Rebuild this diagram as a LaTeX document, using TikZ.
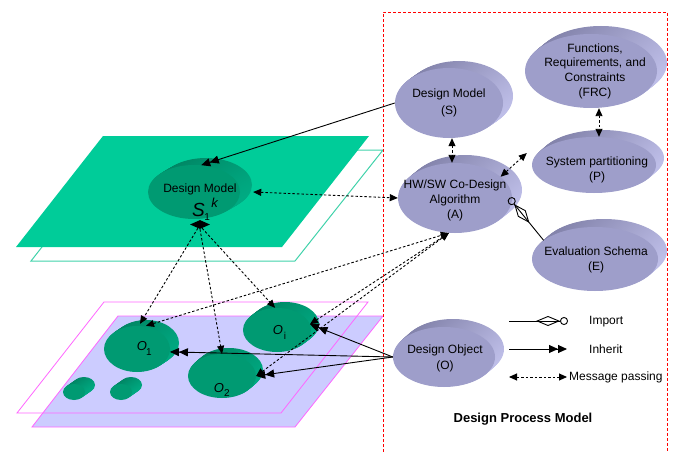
\documentclass[tikz,border=0pt]{standalone}
\usepackage{fontspec}
\setmainfont{Liberation Sans}
\usetikzlibrary{arrows.meta,shapes.geometric}

\definecolor{plane}{HTML}{00CC99}
\definecolor{planeline}{HTML}{40D2AA}
\definecolor{lav}{HTML}{CCCCFF}
\definecolor{mag}{HTML}{FF66FF}
\definecolor{face}{HTML}{9E9ECA}
\definecolor{rimdark}{HTML}{8484AC}
\definecolor{rimlight}{HTML}{BEBEE8}
\definecolor{gface}{HTML}{009A72}
\definecolor{grimdark}{HTML}{008664}
\definecolor{grimlight}{HTML}{00AA82}
\definecolor{boxred}{HTML}{FF0000}

% extruded body behind an elliptic face: cx, cy, rx, ry, dx, dy(up), dark, light
\newcommand\layers[8]{%
  \foreach \i in {10,9,...,1}{%
    \shade[top color=#7, bottom color=#8, shading angle=45]
      ({#1+#5*\i/10},{#2-#6*\i/10}) ellipse [x radius=#3pt, y radius=#4pt];
  }}

\tikzset{
  x=1pt, y=-1pt,
  lavface/.style={ellipse, fill=face, inner sep=0pt},
  greenface/.style={ellipse, fill=gface, inner sep=0pt},
  txt/.style={font=\fontsize{12}{15}\selectfont, align=center, inner sep=0pt},
  olabel/.style={font=\fontsize{13}{13}\selectfont\itshape, inner sep=0pt},
  osub/.style={font=\fontsize{10}{10}\selectfont, inner sep=0pt},
  msg/.style={line width=0.9pt, dash pattern=on 2.5pt off 2pt,
    {Triangle[length=8pt,width=7pt]}-{Triangle[length=8pt,width=7pt]}},
  msgto/.style={line width=0.9pt, dash pattern=on 2.5pt off 2pt,
    -{Triangle[length=8pt,width=7pt]}},
  inh/.style={line width=0.9pt,
    -{Triangle[length=9pt,width=8pt]Triangle[length=9pt,width=8pt]}},
  imp/.style={line width=0.9pt,
    -{Diamond[open,length=24pt,width=10pt]Circle[open,length=8pt]}},
}

\begin{document}
\begin{tikzpicture}
\useasboundingbox (0,0) rectangle (678,452);

% upper (model) planes
\draw[planeline, line width=1pt] (118,150) -- (383,150) -- (295,261) -- (31,261) -- cycle;
\fill[plane] (103,136) -- (369,136) -- (282,247) -- (16,247) -- cycle;

% design model instance S_1^k
\layers{194}{192}{46}{27}{12}{7}{grimdark}{grimlight}
\node[greenface, minimum width=92pt, minimum height=54pt] (S1) at (194,192) {};
\node[txt] (S1text) at (200,189) {Design Model};
\node[inner sep=0pt, anchor=base] (Ssym) at (205,216)
  {{\fontsize{19}{19}\selectfont\itshape S}\kern-0.5pt\raisebox{-4pt}{\fontsize{10}{10}\selectfont 1}\kern1.5pt\raisebox{9pt}{\fontsize{13}{13}\selectfont\itshape k}};
\node[diamond, fill=black, minimum width=20pt, minimum height=9pt, inner sep=0pt] (agg) at (200,224.5) {};

% lower (object) planes
\draw[mag, fill=lav, line width=0.8pt] (118,316) -- (383,316) -- (295,427) -- (32,427) -- cycle;
\draw[mag, line width=0.8pt] (104,302) -- (368,302) -- (281,413) -- (17,413) -- cycle;

% design objects
\layers{137}{349}{33}{23}{9}{6}{grimdark}{grimlight}
\node[greenface, minimum width=66pt, minimum height=46pt] (O1) at (137,349) {};
\node[olabel] (O1l) at (142,346) {O};
\node[osub] (O1s) at (149,352) {1};

\layers{277}{330}{34}{22}{8}{6}{grimdark}{grimlight}
\node[greenface, minimum width=68pt, minimum height=44pt] (Oi) at (277,330) {};
\node[olabel] (Oil) at (278,330) {O};
\node[osub] (Ois) at (285,336) {i};

\layers{222}{376}{34}{22}{7}{6}{grimdark}{grimlight}
\node[greenface, minimum width=68pt, minimum height=44pt] (O2) at (222,376) {};
\node[olabel] (O2l) at (219,388) {O};
\node[osub] (O2s) at (227,393) {2};

\layers{74}{392}{11}{8}{10}{7}{grimdark}{grimlight}
\node[greenface, minimum width=22pt, minimum height=16pt] (pa) at (74,392) {};
\layers{121}{392}{11}{8}{10}{7}{grimdark}{grimlight}
\node[greenface, minimum width=22pt, minimum height=16pt] (pb) at (121,392) {};

% process model frame
\draw[boxred, line width=0.7pt, dash pattern=on 3pt off 2pt] (383,452) -- (383,12) -- (667,12) -- (667,452);

% process model elements
\layers{449}{103}{54}{35}{10}{7}{rimdark}{rimlight}
\node[lavface, minimum width=108pt, minimum height=70pt] (S) at (449,103) {};
\node[txt, font=\fontsize{12}{17}\selectfont] (Stext) at (449,103) {Design Model\\(S)};

\layers{591}{71}{66}{37}{10}{8}{rimdark}{rimlight}
\node[lavface, minimum width=132pt, minimum height=74pt] (FRC) at (591,71) {};
\node[txt, font=\fontsize{12}{14.7}\selectfont] (FRCtext) at (595,71) {Functions,\\Requirements, and\\Constraints\\(FRC)};

\layers{594}{165}{62}{28}{8}{7}{rimdark}{rimlight}
\node[lavface, minimum width=124pt, minimum height=56pt] (P) at (594,165) {};
\node[txt] (Ptext) at (597,170) {System partitioning\\(P)};

\layers{455}{198}{57}{35}{10}{8}{rimdark}{rimlight}
\node[lavface, minimum width=114pt, minimum height=70pt] (A) at (455,198) {};
\node[txt] (Atext) at (455,200) {HW/SW Co-Design\\Algorithm\\(A)};

\layers{595}{259}{63}{32}{9}{8}{rimdark}{rimlight}
\node[lavface, minimum width=126pt, minimum height=64pt] (E) at (595,259) {};
\node[txt] (Etext) at (596,260) {Evaluation Schema\\(E)};

\layers{444}{357}{51}{30}{9}{8}{rimdark}{rimlight}
\node[lavface, minimum width=102pt, minimum height=60pt] (O) at (444,357) {};
\node[txt, font=\fontsize{12}{16}\selectfont] (Otext) at (445,358) {Design Object\\(O)};

% connectors
\draw[inh] (S.west) -- (S1.75);
\draw[msg] ([xshift=13pt]S1.east) -- (A.west);
\draw[msg] ([xshift=3pt]S.south) -- ([xshift=-3pt]A.north);
\draw[msg] ([xshift=8pt]FRC.south) -- ([xshift=5pt]P.north);
\draw[msg] (A.25) -- ([shift={(-5,-12)}]P.west);
\draw[imp] (E.160) -- ([xshift=-3pt]A.east);

\draw[msgto] (agg.-120) -- ([xshift=3pt,yshift=2pt]O1.north);
\draw[msgto] (agg.-90) -- (O2.north);
\draw[msgto] (agg.-60) -- (Oi.95);

\draw[msg] ([xshift=9pt]O1.north) -- (A.-100);
\draw[msg] (Oi.10) -- (A.-100);
\draw[msg] (O2.east) -- (A.-100);

\draw[inh] (O.west) -- (O1.-5);
\draw[inh] (O.west) -- (Oi.10);
\draw[inh] (O.west) -- (O2.east);

% legend
\coordinate (impA) at (509,321);
\coordinate (impB) at (568,321);
\coordinate (inhA) at (509,349);
\coordinate (inhB) at (567,349);
\coordinate (msgA) at (509,377);
\coordinate (msgB) at (567,377);
\draw[imp] (impA) -- (impB);
\draw[inh] (inhA) -- (inhB);
\draw[msg] (msgA) -- (msgB);
\node[txt, anchor=west] (impT) at (589,322) {Import};
\node[txt, anchor=west] (inhT) at (589,349) {Inherit};
\node[txt, anchor=west] (msgT) at (569,377) {Message passing};

\node[font=\bfseries\fontsize{13}{13}\selectfont, inner sep=0pt] (title) at (523,419) {Design Process Model};
\end{tikzpicture}
\end{document}
